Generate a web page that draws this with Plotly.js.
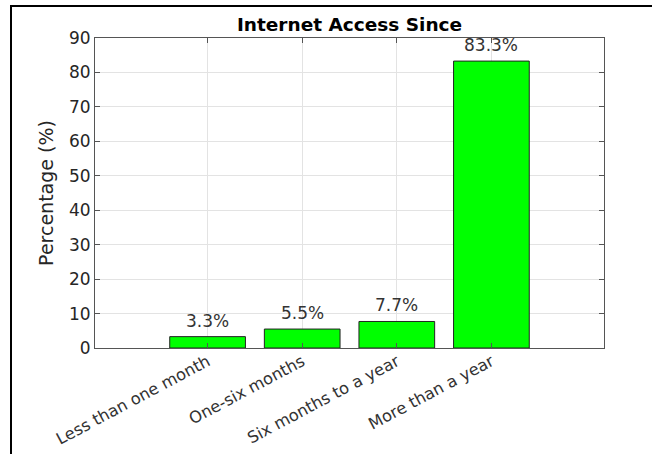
<!DOCTYPE html>
<html>
<head>
<meta charset="utf-8">
<script src="https://cdn.plot.ly/plotly-3.0.1.min.js"></script>
<style>
  html, body { margin: 0; padding: 0; background: #fff; overflow: hidden; }
  #wrap { position: relative; width: 652px; height: 454px; }
  #chart { position: absolute; left: 0; top: 0; width: 652px; height: 454px; }
  #frame { position: absolute; left: 10px; top: 5px; width: 700px; height: 500px;
           border: 2px solid #000; pointer-events: none; }
</style>
</head>
<body>
<div id="wrap">
  <div id="chart"></div>
  <div id="frame"></div>
</div>
<script>
const categories = ["Less than one month", "One-six months", "Six months to a year", "More than a year"];
const percentages = [3.3, 5.5, 7.7, 83.3];
const valueLabels = ["3.3%", "5.5%", "7.7%", "83.3%"];
const yTicks = [0, 10, 20, 30, 40, 50, 60, 70, 80, 90];

const FONT = "DejaVu Sans, Liberation Sans, Arial, sans-serif";

const trace = {
  type: "bar",
  x: categories,
  y: percentages,
  width: 0.8,
  marker: { color: "#00ff00", line: { color: "#222222", width: 1 } },
  hoverinfo: "skip"
};

const annotations = categories.map((c, i) => ({
  x: c, y: percentages[i], xref: "x", yref: "y",
  text: valueLabels[i], showarrow: false,
  yanchor: "bottom", yshift: 4,
  font: { family: FONT, size: 17, color: "#333333" }
}));

const layout = {
  width: 652, height: 454,
  margin: { l: 95, r: 48, t: 38, b: 106 },
  paper_bgcolor: "#ffffff",
  plot_bgcolor: "#ffffff",
  showlegend: false,
  title: {
    text: "<b>Internet Access Since</b>",
    font: { family: FONT, size: 18.5, color: "#000000" },
    x: 0.5, xref: "paper", xanchor: "center",
    y: 1 - 25 / 454, yref: "container", yanchor: "middle"
  },
  xaxis: {
    type: "category",
    range: [-1.19, 4.19],
    tickangle: -28,
    ticks: "inside", ticklen: 5, tickcolor: "#555555",
    ticklabelstandoff: -3,
    showline: true, linecolor: "#555555", linewidth: 1, mirror: "allticks",
    showgrid: true, gridcolor: "#e3e3e3", gridwidth: 1,
    tickfont: { family: FONT, size: 16.3, color: "#333333" },
    zeroline: false, fixedrange: true
  },
  yaxis: {
    range: [0, 90],
    tickvals: yTicks,
    ticktext: yTicks.map(String),
    ticks: "inside", ticklen: 5, tickcolor: "#555555",
    showline: true, linecolor: "#555555", linewidth: 1, mirror: "allticks",
    showgrid: true, gridcolor: "#e3e3e3", gridwidth: 1,
    tickfont: { family: FONT, size: 17, color: "#262626" },
    title: { text: "Percentage (%)", font: { family: FONT, size: 19, color: "#262626" }, standoff: 10 },
    zeroline: false, fixedrange: true
  },
  annotations: annotations
};

Plotly.newPlot("chart", [trace], layout, { displayModeBar: false, staticPlot: true });
</script>
</body>
</html>
